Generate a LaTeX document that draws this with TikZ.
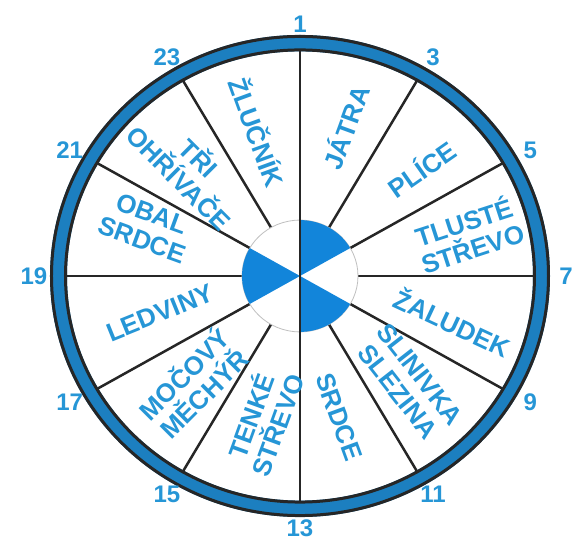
\documentclass[tikz,border=0pt]{standalone}
\usepackage{fontspec}
\setmainfont{Liberation Sans}
\definecolor{ringblue}{RGB}{28,127,192}
\definecolor{hubblue}{RGB}{18,133,218}
\definecolor{textblue}{RGB}{38,150,214}

\begin{document}
\begin{tikzpicture}[
  x=1pt,y=1pt,
  font=\bfseries\fontsize{26}{28}\selectfont,
  organ/.style={text=textblue,align=center,inner sep=0pt},
  hour/.style={text=textblue,inner sep=0pt,font=\bfseries\fontsize{24}{24}\selectfont},
  spoke/.style={draw=black!85,line width=2.5pt},
  rim/.style={draw=black!85,line width=3pt},
]
\useasboundingbox (-300,-264) rectangle (273,276);
% ---------- wheel ----------
\begin{scope}[yscale=0.964]
  \fill[ringblue,even odd rule] (0,0) circle (250) (0,0) circle (233);
  \draw[rim] (0,0) circle (248.5);
  \draw[rim] (0,0) circle (234.5);
  \foreach \a in {0,30,...,330}
    \draw[spoke] (\a:58) -- (\a:234);
  % hub
  \filldraw[fill=white,draw=black!25,line width=0.8pt] (0,0) circle (58);
  \foreach \a in {30,150,270}
    \fill[hubblue] (0,0) -- (\a:58) arc[start angle=\a,end angle=\a+60,radius=58] -- cycle;
  \draw[spoke] (90:234) -- (270:234);
\end{scope}

% ---------- organs ----------
\foreach \x/\y/\r/\t [count=\k] in {
    45/149/70/JÁTRA,
    121/108/35/PLÍCE,
    168/42/18/{TLUSTÉ\\STŘEVO},
    153/-46/-25/ŽALUDEK,
    109/-107/-52/{SLINIVKA\\SLEZINA},
    39/-141/-70/SRDCE,
    -37/-144/70/{TENKÉ\\STŘEVO},
    -107/-107/45/{MOČOVÝ\\MĚCHÝŘ},
    -140/-37/22/LEDVINY,
    -153/49/-20/{OBAL\\SRDCE},
    -110/109/-45/{TŘI\\OHŘÍVAČE},
    -42/144/-70/ŽLUČNÍK}
  \node[organ,rotate=\r] (organ\k) at (\x,\y) {\t};

% ---------- hours ----------
\foreach \n in {1,3,...,23}
  \node[hour] (h\n) at ({266*cos(90-(\n-1)*15)},{252*sin(90-(\n-1)*15)}) {\n};
\end{tikzpicture}
\end{document}
